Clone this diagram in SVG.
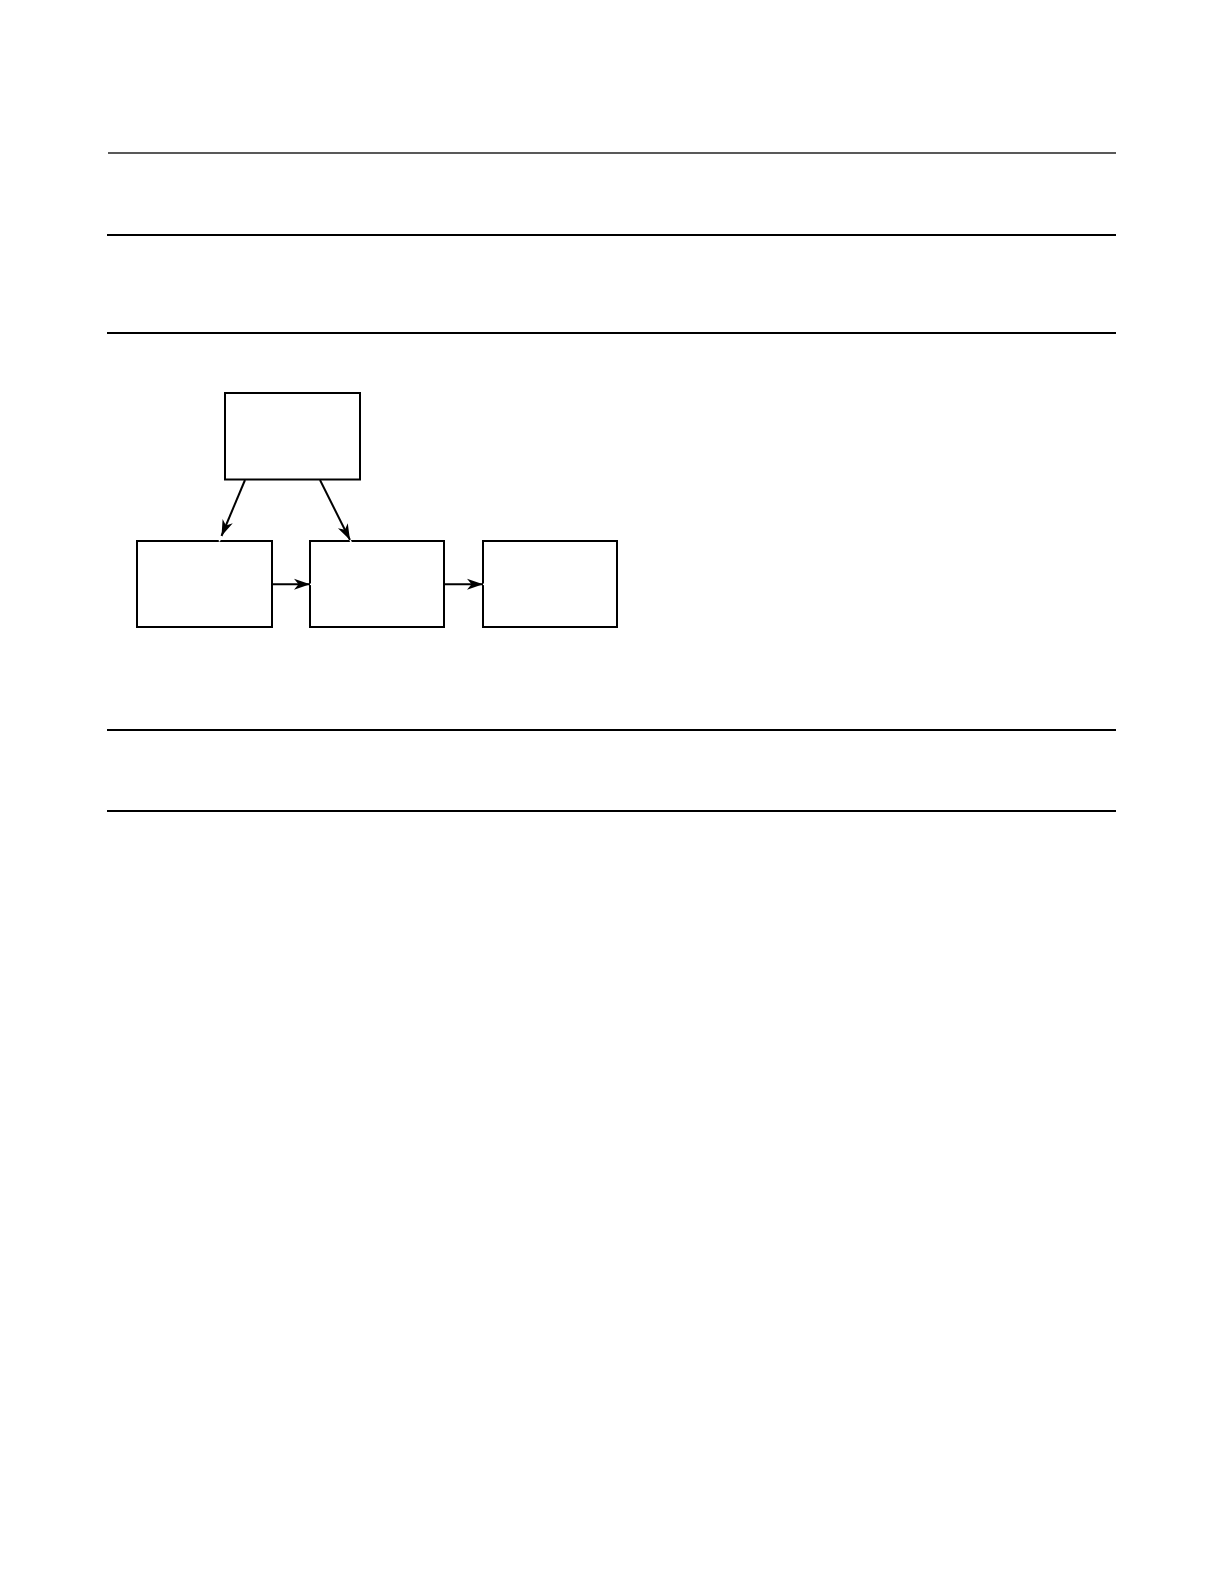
<svg xmlns="http://www.w3.org/2000/svg" width="1224" height="1584" viewBox="0 0 1224 1584">
<style>
.rule{stroke:#000;stroke-width:2;fill:none}
.thin{stroke:#222;stroke-width:1.3;fill:none}
.box{fill:#fff;stroke:#000;stroke-width:2}
.edge{stroke:#000;stroke-width:2;fill:none;marker-end:url(#arr)}
</style>
<defs>
<marker id="arr" markerUnits="userSpaceOnUse" viewBox="-17 -7 25 14" refX="0" refY="0" markerWidth="25" markerHeight="14" orient="auto">
<line x1="0" y1="0" x2="6" y2="0" stroke="#fff" stroke-width="1.6"/>
<path d="M0,0 L-16,-5.5 L-11.5,0 L-16,5.5 Z" fill="#000"/>
</marker>
</defs>
<rect width="1224" height="1584" fill="#fff"/>
<g id="rules">
<line class="thin" x1="108" y1="153" x2="1116" y2="153"/>
<line class="rule" x1="107" y1="235" x2="1116" y2="235"/>
<line class="rule" x1="107" y1="333" x2="1116" y2="333"/>
<line class="rule" x1="107" y1="730" x2="1116" y2="730"/>
<line class="rule" x1="107" y1="811" x2="1116" y2="811"/>
</g>
<g id="node-top"><rect class="box" x="225" y="393" width="135" height="86.5"/></g>
<g id="node-left"><rect class="box" x="137" y="541" width="135" height="86"/></g>
<g id="node-middle"><rect class="box" x="310" y="541" width="134" height="86"/></g>
<g id="node-right"><rect class="box" x="483" y="541" width="134" height="86"/></g>
<g id="connectors">
<line class="edge" x1="245" y1="480" x2="221.5" y2="536"/>
<line class="edge" x1="320" y1="480" x2="350" y2="540"/>
<line class="edge" x1="272" y1="584.3" x2="310" y2="584.3"/>
<line class="edge" x1="444" y1="584.3" x2="483" y2="584.3"/>
</g>
</svg>
